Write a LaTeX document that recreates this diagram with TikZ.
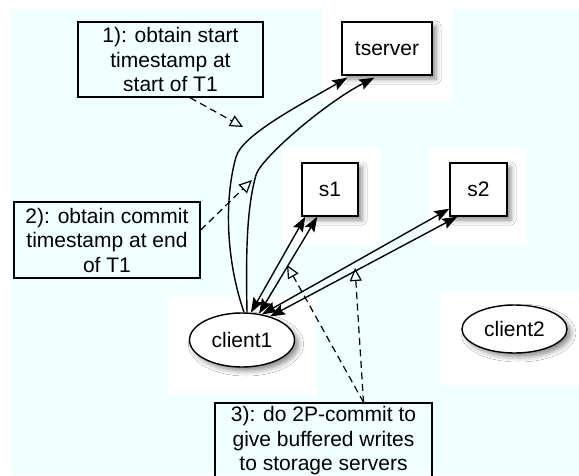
\documentclass[tikz,border=0pt]{standalone}
\usepackage{fontspec}
\setmainfont{Liberation Sans}
\usetikzlibrary{arrows.meta,shapes.geometric,shadows.blur}
\definecolor{paper}{RGB}{240,255,255}
\tikzset{
  label font/.style={font=\fontsize{21}{24.5}\selectfont},
  dropshadow/.style={blur shadow={shadow xshift=4pt, shadow yshift=-4pt,
      shadow blur radius=5pt, shadow opacity=45}},
  note/.style={draw, line width=1.4pt, rectangle, align=center,
      inner sep=0pt, label font},
  server/.style={draw, line width=1.4pt, fill=white, rectangle,
      inner sep=0pt, label font, dropshadow},
  client/.style={draw, line width=1.4pt, fill=white, ellipse,
      inner sep=0pt, label font, dropshadow},
  patch/.style={fill=white, draw=none},
  link/.style={line width=1.4pt, -{Stealth[length=15pt, width=11pt, inset=2.5pt]}},
  duplex/.style={line width=1.4pt,
      {Stealth[length=15pt, width=11pt, inset=2.5pt]}-{Stealth[length=15pt, width=11pt, inset=2.5pt]}},
  hint/.style={line width=1.2pt, dash pattern=on 7pt off 4.5pt,
      -{Triangle[open, length=13pt, width=12pt, line width=1.2pt]}},
}
\begin{document}
\begin{tikzpicture}[x=1pt, y=-1pt]
  \clip (0,0) rectangle (579,475);
  \useasboundingbox (0,0) rectangle (579,475);

  % page and tinted canvas
  \fill[white] (0,0) rectangle (579,475);
  \fill[paper] (11,9) rectangle (579,475);

  % white halos behind the shapes
  \fill[patch] (322,8) rectangle (452,102);
  \fill[patch] (282,148) rectangle (381,245);
  \fill[patch] (429,148) rectangle (527,245);
  \fill[patch] (168,296) rectangle (316,395);
  \fill[patch] (440,292) rectangle (579,385);

  % servers and clients
  \node[server, minimum width=90pt, minimum height=53pt] (tserver) at (387,48.5) {tserver};
  \node[server, minimum width=56pt, minimum height=53pt] (s1) at (330,189.5) {s1};
  \node[server, minimum width=57pt, minimum height=53pt] (s2) at (478.5,189.5) {s2};
  \node[client, minimum width=105pt, minimum height=54pt] (client1) at (242,340) {client1};
  \node[client, minimum width=105pt, minimum height=48pt] (client2) at (514.5,329) {client2};

  % annotation boxes
  \node[note, minimum width=185pt, minimum height=75pt] (box1) at (170.5,59.5)
    {1): obtain start\\timestamp at\\start of T1};
  \node[note, minimum width=186pt, minimum height=76pt] (box2) at (107,240)
    {2): obtain commit\\timestamp at end\\of T1};
  \node[note, minimum width=217pt, minimum height=76pt] (box3) at (323.5,441)
    {3): do 2P-commit to\\give buffered writes\\to storage servers};

  % timestamp requests to tserver
  \draw[link] ([xshift=2pt]client1.north)
      .. controls (226,260) and (224,200) .. (236,157)
      .. controls (242,135) and (300,105) .. ([xshift=6pt,yshift=-2pt]tserver.south west);
  \draw[link] ([xshift=5pt]client1.north)
      .. controls (246,260) and (246,210) .. (256,175)
      .. controls (261,158) and (325,103) .. ([xshift=33pt,yshift=-2pt]tserver.south west);

  % exchanges with the storage servers
  \draw[duplex] (client1.72) -- ([xshift=4pt]s1.south west);
  \draw[duplex] (client1.57) -- ([xshift=16pt]s1.south west);
  \draw[duplex] (client1.52) -- ([yshift=8pt]s2.south west);
  \draw[duplex] (client1.40) -- ([xshift=8pt]s2.south west);

  % pointers from the notes
  \coordinate (t1) at (243,127);
  \coordinate (t2) at (252,180);
  \coordinate (t3a) at (287,265);
  \coordinate (t3b) at (355,268);
  \draw[hint] ([xshift=19.5pt]box1.south) -- (t1);
  \draw[hint] ([yshift=10pt]box2.east) -- (t2);
  \draw[hint] ([xshift=40pt]box3.north) -- (t3a);
  \draw[hint] ([xshift=40pt]box3.north) -- (t3b);
\end{tikzpicture}
\end{document}
